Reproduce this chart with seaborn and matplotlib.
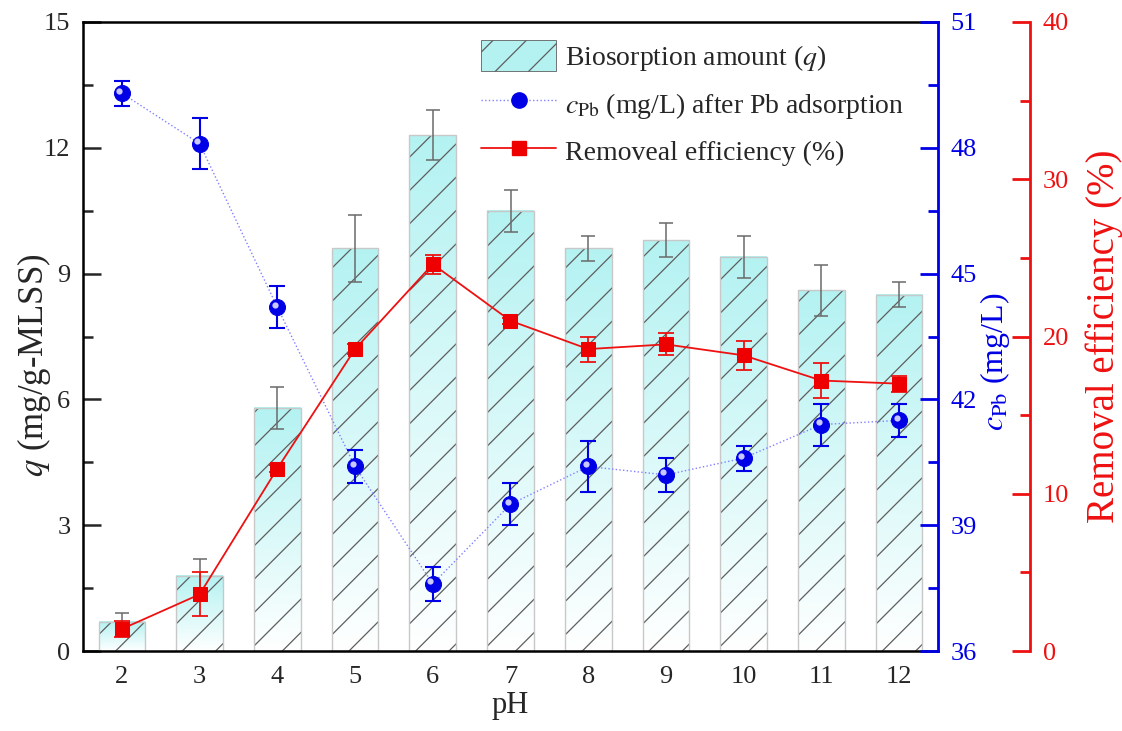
import numpy as np
import pandas as pd
import seaborn as sns
import matplotlib
matplotlib.use('Agg')
import matplotlib.pyplot as plt
from matplotlib.patches import Patch, Rectangle
from matplotlib.lines import Line2D
from matplotlib.colors import LinearSegmentedColormap
from matplotlib.ticker import MultipleLocator
import matplotlib.transforms as mtransforms

# ---- data ----
ph = [2, 3, 4, 5, 6, 7, 8, 9, 10, 11, 12]
q = [0.7, 1.8, 5.8, 9.6, 12.3, 10.5, 9.6, 9.8, 9.4, 8.6, 8.5]
q_err = [0.2, 0.4, 0.5, 0.8, 0.6, 0.5, 0.3, 0.4, 0.5, 0.6, 0.3]
c_pb = [49.3, 48.1, 44.2, 40.4, 37.6, 39.5, 40.4, 40.2, 40.6, 41.4, 41.5]
c_err = [0.3, 0.6, 0.5, 0.4, 0.4, 0.5, 0.6, 0.4, 0.3, 0.5, 0.4]
removal = [1.4, 3.6, 11.6, 19.2, 24.6, 21.0, 19.2, 19.5, 18.8, 17.2, 17.0]
removal_err = [0.5, 1.4, 0.2, 0.3, 0.6, 0.2, 0.8, 0.7, 0.9, 1.1, 0.5]

q_ticks = [0, 3, 6, 9, 12, 15]
c_ticks = [36, 39, 42, 45, 48, 51]
r_ticks = [0, 10, 20, 30, 40]

sns.set_style('ticks')
plt.rcParams['font.family'] = ['Liberation Serif', 'DejaVu Serif']
plt.rcParams['mathtext.fontset'] = 'stix'
plt.rcParams['hatch.linewidth'] = 0.9

TICK_FS = 19
LEG_FS = 20
CYAN = '#b4f2f2'
BLUE = '#0000e6'
RED = '#ee1111'

df = pd.DataFrame({'pH': ph, 'q': q})

fig = plt.figure(figsize=(11.22, 7.31), dpi=100)
ax = fig.add_axes([83 / 1122, 80 / 731, 855 / 1122, 629 / 731])

sns.barplot(data=df, x='pH', y='q', native_scale=True, width=0.6,
            errorbar=None, color=CYAN, ax=ax, zorder=1)

cmap = LinearSegmentedColormap.from_list('g', ['white', CYAN])
grad = np.linspace(0, 1, 256).reshape(-1, 1)
for p in list(ax.patches):
    x0, w, h = p.get_x(), p.get_width(), p.get_height()
    ax.imshow(grad, extent=[x0, x0 + w, 0, h], origin='lower', aspect='auto',
              cmap=cmap, zorder=0.5, interpolation='bilinear')
    p.set_facecolor('none')
    p.set_hatch('/')
    p.set_edgecolor('#5e5e5e')
    p.set_linewidth(0)
    ax.add_patch(Rectangle((x0, 0), w, h, fill=False, edgecolor='#c8c8c8',
                           lw=1.0, zorder=1.1))

ax.errorbar(ph, q, yerr=q_err, fmt='none', ecolor='#6a6a6a', elinewidth=1.1,
            capsize=5, capthick=1.1, zorder=3)

ax.set_xlim(1.5, 12.5)
ax.set_ylim(0, 15)
ax.set_xticks(ph)
ax.set_xticklabels([str(v) for v in ph])
ax.set_yticks(q_ticks)
ax.yaxis.set_minor_locator(MultipleLocator(1.5))
ax.tick_params(axis='y', which='major', direction='in', length=13, width=1.8,
               labelsize=TICK_FS, pad=9)
ax.tick_params(axis='y', which='minor', direction='in', length=7, width=1.8)
ax.tick_params(axis='x', length=0, labelsize=TICK_FS, pad=11)
for s in ['left', 'bottom', 'top']:
    ax.spines[s].set_linewidth(1.8)
    ax.spines[s].set_color('black')
ax.spines['right'].set_visible(False)
ax.set_xlabel('pH', fontsize=22, labelpad=2)
ax.set_ylabel(r'$q$ (mg/g-MLSS)', fontsize=25)
ax.yaxis.set_label_coords(-0.035, 0.455)

# ---- c_Pb axis ----
ax2 = ax.twinx()
sns.lineplot(x=ph, y=c_pb, ax=ax2, color='#8080ff', linestyle=':', lw=1.0,
             marker='o', markersize=11.5, markerfacecolor=BLUE,
             markeredgecolor=BLUE, zorder=4)
ax2.errorbar(ph, c_pb, yerr=c_err, fmt='none', ecolor=BLUE, elinewidth=1.5,
             capsize=6, capthick=1.5, zorder=3)
hl = mtransforms.offset_copy(ax2.transData, fig=fig, x=-2.5, y=2.5, units='dots')
ax2.plot(ph, c_pb, 'o', ms=4.5, color='#c8c8ff', mec='none', transform=hl, zorder=5)
ax2.set_ylim(36, 51)
ax2.set_yticks(c_ticks)
ax2.yaxis.set_minor_locator(MultipleLocator(1.5))
ax2.tick_params(axis='y', which='major', direction='in', length=13, width=2,
                colors=BLUE, labelsize=TICK_FS, pad=9)
ax2.tick_params(axis='y', which='minor', direction='in', length=7, width=2,
                colors=BLUE)
for s in ['left', 'bottom', 'top']:
    ax2.spines[s].set_visible(False)
ax2.spines['right'].set_color(BLUE)
ax2.spines['right'].set_linewidth(2)
ax2.set_ylabel(r'$c_{\rm Pb}$ (mg/L)', fontsize=23, color=BLUE)
ax2.yaxis.set_label_coords(1.047, 0.46)

# ---- removal efficiency axis ----
ax3 = ax.twinx()
ax3.spines['right'].set_position(('axes', 1.108))
sns.lineplot(x=ph, y=removal, ax=ax3, color=RED, lw=1.3, marker='s',
             markersize=9.5, markerfacecolor='#ee0000', markeredgecolor='#ee0000',
             zorder=4)
ax3.errorbar(ph, removal, yerr=removal_err, fmt='none', ecolor=RED,
             elinewidth=1.3, capsize=6, capthick=1.3, zorder=3)
ax3.set_ylim(0, 40)
ax3.set_yticks(r_ticks)
ax3.yaxis.set_minor_locator(MultipleLocator(5))
ax3.tick_params(axis='y', which='major', direction='in', length=13, width=2,
                colors=RED, labelsize=TICK_FS, pad=9)
ax3.tick_params(axis='y', which='minor', direction='in', length=7, width=2,
                colors=RED)
for s in ['left', 'bottom', 'top']:
    ax3.spines[s].set_visible(False)
ax3.spines['right'].set_color(RED)
ax3.spines['right'].set_linewidth(2)
ax3.set_ylabel('Removal efficiency (%)', fontsize=28, color=RED)
ax3.yaxis.set_label_coords(1.172, 0.5)

# ---- legend ----
handles = [
    Patch(facecolor=CYAN, edgecolor='#5e5e5e', hatch='/', lw=0.6),
    Line2D([], [], color='#8080ff', linestyle=':', lw=1.0, marker='o',
           markersize=11, markerfacecolor=BLUE, markeredgecolor=BLUE),
    Line2D([], [], color=RED, lw=1.3, marker='s', markersize=9.5,
           markerfacecolor='#ee0000', markeredgecolor='#ee0000'),
]
labels = [r'Biosorption amount ($q$)',
          r'$c_{\rm Pb}$ (mg/L) after Pb adsorption',
          'Removeal efficiency (%)']
ax3.legend(handles, labels, loc='upper left',
           bbox_to_anchor=(462 / 1122, 1 - 21 / 731),
           bbox_transform=fig.transFigure, frameon=False, fontsize=LEG_FS,
           handlelength=2.7, handleheight=1.3, labelspacing=0.55,
           handletextpad=0.3, borderpad=0.2)

fig.savefig('out.png', dpi=100)
